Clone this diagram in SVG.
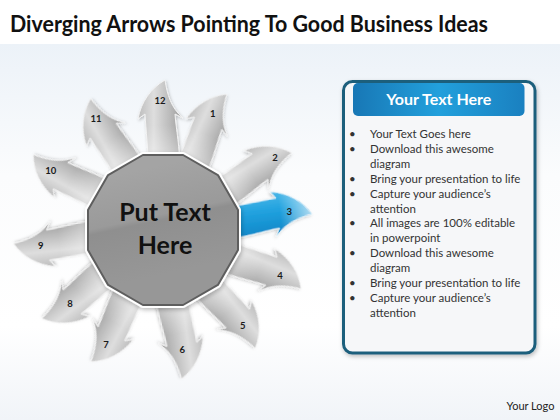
<svg xmlns="http://www.w3.org/2000/svg" xmlns:xlink="http://www.w3.org/1999/xlink" width="560" height="420" viewBox="0 0 560 420">
  <style>
    .title { font-family: Lato, "Liberation Sans", sans-serif; font-weight: bold; font-size: 22px; fill: #111; }
    .num { font-family: Lato, "Liberation Sans", sans-serif; font-weight: bold; font-size: 9.5px; fill: #1a1a1a; text-anchor: middle; dominant-baseline: central; }
    .center { font-family: Lato, "Liberation Sans", sans-serif; font-weight: bold; font-size: 25px; fill: #111; text-anchor: middle; }
    .head { font-family: Lato, "Liberation Sans", sans-serif; font-weight: bold; font-size: 16px; fill: #fff; text-anchor: middle; }
    .item { font-family: Lato, "Liberation Sans", sans-serif; font-size: 11.5px; fill: #333; }
    .logo { font-family: Lato, "Liberation Sans", sans-serif; font-size: 11px; fill: #222; }
    .garrow { fill: url(#gH); stroke: #f2f2f2; stroke-width: 1; filter: url(#sh); }
    .gover { fill: url(#gV); }
  </style>
  <defs>
    <linearGradient id="bg" x1="0" y1="0" x2="0" y2="1">
      <stop offset="0" stop-color="#ecf2f8"/>
      <stop offset="0.35" stop-color="#fbfcfd"/>
      <stop offset="0.75" stop-color="#ffffff"/>
      <stop offset="1" stop-color="#f1f4f8"/>
    </linearGradient>
    <linearGradient id="gH" gradientUnits="userSpaceOnUse" x1="-26" y1="0" x2="22" y2="0">
      <stop offset="0" stop-color="#bbbbbb"/>
      <stop offset="0.35" stop-color="#dedede"/>
      <stop offset="0.7" stop-color="#b9b9b9"/>
      <stop offset="1" stop-color="#969696"/>
    </linearGradient>
    <linearGradient id="gV" gradientUnits="userSpaceOnUse" x1="0" y1="-72" x2="0" y2="-105">
      <stop offset="0" stop-color="#ffffff" stop-opacity="0.4"/>
      <stop offset="1" stop-color="#ffffff" stop-opacity="0"/>
    </linearGradient>
    <linearGradient id="bH" gradientUnits="userSpaceOnUse" x1="-26" y1="0" x2="22" y2="0">
      <stop offset="0" stop-color="#4cb8e8"/>
      <stop offset="0.4" stop-color="#22a2df"/>
      <stop offset="0.8" stop-color="#128dcd"/>
      <stop offset="1" stop-color="#1180bf"/>
    </linearGradient>
    <linearGradient id="bTip" gradientUnits="userSpaceOnUse" x1="0" y1="-118" x2="0" y2="-150">
      <stop offset="0" stop-color="#ffffff" stop-opacity="0"/>
      <stop offset="1" stop-color="#ffffff" stop-opacity="0.65"/>
    </linearGradient>
    <linearGradient id="poly" x1="0.1" y1="0.15" x2="0.25" y2="0.85">
      <stop offset="0" stop-color="#a4a4a4"/>
      <stop offset="0.45" stop-color="#9a9a9a"/>
      <stop offset="0.5" stop-color="#8f8f8f"/>
      <stop offset="1" stop-color="#979797"/>
    </linearGradient>
    <linearGradient id="hdr" x1="0" y1="0" x2="1" y2="0">
      <stop offset="0" stop-color="#1877b5"/>
      <stop offset="0.5" stop-color="#22a0dc"/>
      <stop offset="1" stop-color="#1a80c0"/>
    </linearGradient>
    <filter id="sh" x="-40%" y="-20%" width="180%" height="140%">
      <feDropShadow dx="1" dy="1.5" stdDeviation="1.5" flood-color="#000" flood-opacity="0.25"/>
    </filter>
    <filter id="psh" x="-10%" y="-10%" width="120%" height="120%">
      <feDropShadow dx="1" dy="2" stdDeviation="2" flood-color="#000" flood-opacity="0.25"/>
    </filter>
    <path id="arr" d="M -14,-55 C -15,-80 -17,-100 -18,-116 L -25,-111 C -22,-128 -12,-142 2,-150 C 4,-136 8,-122 20,-112 L 12,-116 C 13,-100 17,-85 17,-55 Z"/>
  </defs>

  <rect x="0" y="0" width="560" height="420" fill="#ffffff"/>
  <rect x="0" y="44" width="560" height="376" fill="url(#bg)"/>

  <text class="title" x="10" y="31.5" textLength="478" lengthAdjust="spacingAndGlyphs">Diverging Arrows Pointing To Good Business Ideas</text>

  <g id="arrows">
    <g id="arrow-1">
      <g transform="translate(163 230) rotate(24.4)"><use xlink:href="#arr" class="garrow"/><use xlink:href="#arr" class="gover"/></g>
      <text class="num" x="212.7" y="113.3">1</text>
    </g>
    <g id="arrow-2">
      <g transform="translate(163 230) rotate(58.3)"><use xlink:href="#arr" class="garrow"/><use xlink:href="#arr" class="gover"/></g>
      <text class="num" x="275" y="157.3">2</text>
    </g>
    <g id="arrow-4">
      <g transform="translate(163 230) rotate(112.3)"><use xlink:href="#arr" class="garrow"/><use xlink:href="#arr" class="gover"/></g>
      <text class="num" x="280" y="275">4</text>
    </g>
    <g id="arrow-5">
      <g transform="translate(163 230) rotate(141.3)"><use xlink:href="#arr" class="garrow"/><use xlink:href="#arr" class="gover"/></g>
      <text class="num" x="242.7" y="325">5</text>
    </g>
    <g id="arrow-6">
      <g transform="translate(163 230) rotate(172.1)"><use xlink:href="#arr" class="garrow"/><use xlink:href="#arr" class="gover"/></g>
      <text class="num" x="182.3" y="349">6</text>
    </g>
    <g id="arrow-7">
      <g transform="translate(163 230) rotate(207.9)"><use xlink:href="#arr" class="garrow"/><use xlink:href="#arr" class="gover"/></g>
      <text class="num" x="106" y="344">7</text>
    </g>
    <g id="arrow-8">
      <g transform="translate(163 230) rotate(233.1)"><use xlink:href="#arr" class="garrow"/><use xlink:href="#arr" class="gover"/></g>
      <text class="num" x="70" y="303.3">8</text>
    </g>
    <g id="arrow-9">
      <g transform="translate(163 230) rotate(264)"><use xlink:href="#arr" class="garrow"/><use xlink:href="#arr" class="gover"/></g>
      <text class="num" x="40.7" y="245.7">9</text>
    </g>
    <g id="arrow-10">
      <g transform="translate(163 230) rotate(299.4)"><use xlink:href="#arr" class="garrow"/><use xlink:href="#arr" class="gover"/></g>
      <text class="num" x="50.7" y="170">10</text>
    </g>
    <g id="arrow-11">
      <g transform="translate(163 230) rotate(330.4)"><use xlink:href="#arr" class="garrow"/><use xlink:href="#arr" class="gover"/></g>
      <text class="num" x="96" y="118">11</text>
    </g>
    <g id="arrow-12">
      <g transform="translate(163 230) rotate(0)"><use xlink:href="#arr" class="garrow"/><use xlink:href="#arr" class="gover"/></g>
      <text class="num" x="160" y="100.7">12</text>
    </g>
    <g id="arrow-3">
      <g transform="translate(163 230) rotate(83.1)"><use xlink:href="#arr" fill="url(#bH)" stroke="#e8f6fc" stroke-width="0.8" filter="url(#sh)"/><use xlink:href="#arr" fill="url(#bTip)"/></g>
      <text class="num" x="289.3" y="211.7">3</text>
    </g>
  </g>

  <g id="center-node">
    <polygon points="238,250.1 217.9,284.9 183.1,305 142.9,305 108.1,284.9 88,250.1 88,209.9 108.1,175.1 142.9,155 183.1,155 217.9,175.1 238,209.9" fill="#ffffff" stroke="#ffffff" stroke-width="6" stroke-linejoin="round" filter="url(#psh)"/>
    <polygon points="238,250.1 217.9,284.9 183.1,305 142.9,305 108.1,284.9 88,250.1 88,209.9 108.1,175.1 142.9,155 183.1,155 217.9,175.1 238,209.9" fill="url(#poly)" stroke="#5e5e5e" stroke-width="2" stroke-linejoin="round"/>
    <text class="center" x="165" y="220.5">Put Text</text>
    <text class="center" x="165" y="253.5">Here</text>
  </g>

  <g id="text-panel">
    <rect x="343.5" y="81.5" width="191.5" height="271.5" rx="9" fill="#f6f7f9" stroke="#1f5e7c" stroke-width="3" filter="url(#psh)"/>
    <rect x="353" y="83" width="171.5" height="33" rx="5" fill="url(#hdr)"/>
    <text class="head" x="438.8" y="104.5">Your Text Here</text>
    <g class="item">
      <text x="349" y="138">•</text><text x="370" y="138">Your Text Goes here</text>
      <text x="349" y="152.9">•</text><text x="370" y="152.9">Download this awesome</text>
      <text x="370" y="167.8">diagram</text>
      <text x="349" y="182.7">•</text><text x="370" y="182.7">Bring your presentation to life</text>
      <text x="349" y="197.6">•</text><text x="370" y="197.6">Capture your audience’s</text>
      <text x="370" y="212.5">attention</text>
      <text x="349" y="227.4">•</text><text x="370" y="227.4">All images are 100% editable</text>
      <text x="370" y="242.3">in powerpoint</text>
      <text x="349" y="257.2">•</text><text x="370" y="257.2">Download this awesome</text>
      <text x="370" y="272.1">diagram</text>
      <text x="349" y="287">•</text><text x="370" y="287">Bring your presentation to life</text>
      <text x="349" y="301.9">•</text><text x="370" y="301.9">Capture your audience’s</text>
      <text x="370" y="316.8">attention</text>
    </g>
  </g>

  <text class="logo" x="506.5" y="410">Your Logo</text>
</svg>
